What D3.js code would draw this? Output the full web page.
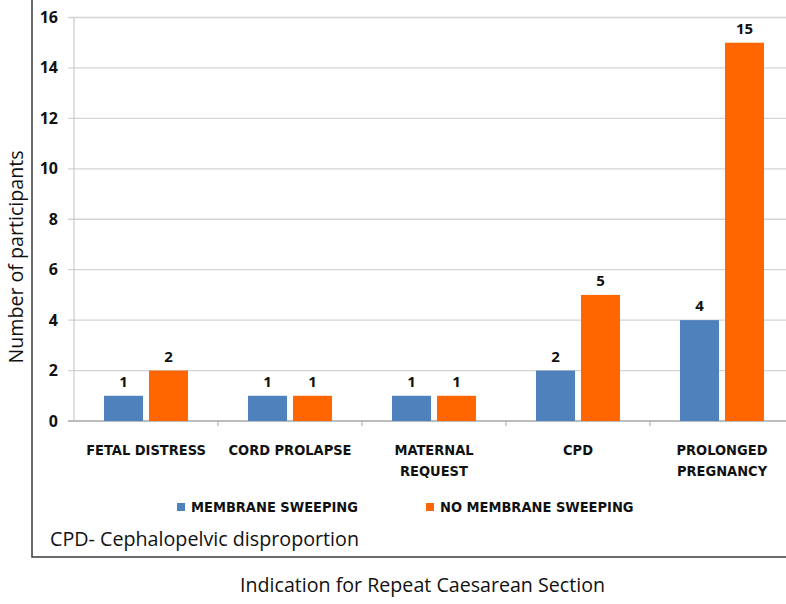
<!DOCTYPE html>
<html><head><meta charset="utf-8">
<script src="https://cdn.jsdelivr.net/npm/d3@7"></script>
<style>body{margin:0;background:#fff}svg{display:block}</style>
</head><body>
<svg id="c" width="786" height="604"></svg>
<script>
const categories = [["FETAL DISTRESS"],["CORD PROLAPSE"],["MATERNAL","REQUEST"],["CPD"],["PROLONGED","PREGNANCY"]];
const seriesNames = ["MEMBRANE SWEEPING","NO MEMBRANE SWEEPING"];
const membraneSweeping = [1,1,1,2,4];
const noMembraneSweeping = [2,1,1,5,15];
const yTicks = [0,2,4,6,8,10,12,14,16];
const colors = ["#4F81BD","#FF6600"];

const svg = d3.select("#c");
const condensed = "'Liberation Sans Narrow','DejaVu Sans Condensed','Arial Narrow',sans-serif";
const catKeys = categories.map(c=>c.join(" "));
const x = d3.scaleBand().domain(catKeys).range([74,794]).paddingInner(0).paddingOuter(0);
const x1 = d3.scaleBand().domain(seriesNames).range([30,114]).paddingInner(0.133);
const y = d3.scaleLinear().domain([0,16]).range([421,17.5]);

// outer border
svg.append("rect").attr("x",32).attr("y",-5).attr("width",800).attr("height",562)
  .attr("fill","none").attr("stroke","#3a3a3a").attr("stroke-width",1.5);

// gridlines
svg.append("g").selectAll("line").data(yTicks).join("line")
  .attr("x1",68).attr("x2",794).attr("y1",d=>y(d)).attr("y2",d=>y(d))
  .attr("stroke",d=>d===0?"#a6a6a6":"#d4d4d4").attr("stroke-width",1.3);
// y axis line
svg.append("line").attr("x1",74).attr("x2",74).attr("y1",y(16)).attr("y2",y(0)).attr("stroke","#bfbfbf").attr("stroke-width",1);
// category tick marks
svg.append("g").selectAll("line").data(catKeys.slice(1)).join("line")
  .attr("x1",d=>x(d)).attr("x2",d=>x(d)).attr("y1",y(0)).attr("y2",y(0)+5).attr("stroke","#a6a6a6");

// y tick labels
svg.append("g").selectAll("text").data(yTicks).join("text")
  .attr("x",58).attr("y",d=>y(d)+5.5).attr("text-anchor","end")
  .attr("font-family","'Open Sans',sans-serif").attr("font-weight","bold").attr("font-size",16).attr("fill","#111")
  .text(d=>d);

// bars
const rows = catKeys.map((k,i)=>({k, vals:[membraneSweeping[i], noMembraneSweeping[i]]}));
const g = svg.append("g").selectAll("g").data(rows).join("g").attr("transform",d=>`translate(${x(d.k)},0)`);
g.selectAll("rect").data(d=>d.vals.map((v,j)=>({v,s:seriesNames[j],j}))).join("rect")
  .attr("x",d=>x1(d.s)).attr("width",x1.bandwidth())
  .attr("y",d=>y(d.v)).attr("height",d=>y(0)-y(d.v)).attr("fill",d=>colors[d.j]);
g.selectAll("text").data(d=>d.vals.map((v,j)=>({v,s:seriesNames[j],j}))).join("text")
  .attr("x",d=>x1(d.s)+x1.bandwidth()/2).attr("y",d=>y(d.v)-9).attr("text-anchor","middle")
  .attr("font-family","'Open Sans',sans-serif").attr("font-weight","bold").attr("font-size",15).attr("fill","#111")
  .text(d=>d.v);

// category labels
const cl = svg.append("g").selectAll("text").data(categories).join("text")
  .attr("x",(d,i)=>x(catKeys[i])+x.bandwidth()/2).attr("y",455).attr("text-anchor","middle")
  .attr("font-family",condensed).attr("font-weight","bold").attr("font-size",14.5).attr("fill","#111");
cl.selectAll("tspan").data(d=>d).join("tspan")
  .attr("x",function(){return this.parentNode.getAttribute("x");}).attr("dy",(d,i)=>i?21:0).text(d=>d);

// y axis title
svg.append("text").attr("transform","translate(23,257) rotate(-90)").attr("text-anchor","middle")
  .attr("font-family","'Open Sans',sans-serif").attr("font-size",20).attr("fill","#111")
  .attr("textLength",213).attr("lengthAdjust","spacingAndGlyphs").text("Number of participants");

// legend
const legX = [177,426];
const lg = svg.append("g").selectAll("g").data(seriesNames).join("g").attr("transform",(d,i)=>`translate(${legX[i]},507)`);
lg.append("rect").attr("x",0).attr("y",-4).attr("width",8).attr("height",8).attr("fill",(d,i)=>colors[i]);
lg.append("text").attr("x",14).attr("y",5).attr("font-family",condensed).attr("font-weight","bold").attr("font-size",14.5).attr("fill","#111").text(d=>d);

// note
svg.append("text").attr("x",50).attr("y",546).attr("font-family","'Open Sans',sans-serif").attr("font-size",20).attr("fill","#111")
  .attr("textLength",309).attr("lengthAdjust","spacingAndGlyphs").text("CPD- Cephalopelvic disproportion");
// x title
svg.append("text").attr("x",240).attr("y",592).attr("font-family","'Open Sans',sans-serif").attr("font-size",20.5).attr("fill","#111")
  .attr("textLength",365).attr("lengthAdjust","spacingAndGlyphs").text("Indication for Repeat Caesarean Section");
</script>
</body></html>
